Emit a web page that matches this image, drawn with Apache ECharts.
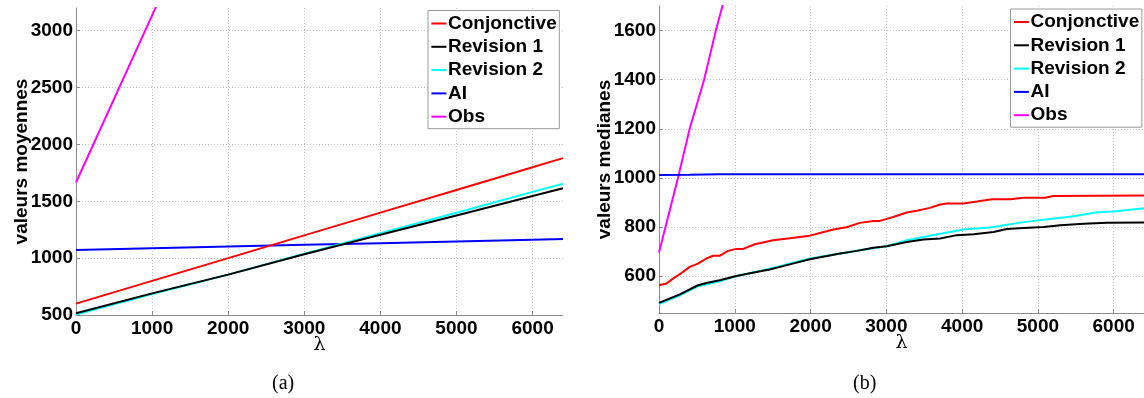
<!DOCTYPE html>
<html>
<head>
<meta charset="utf-8">
<script src="https://cdn.jsdelivr.net/npm/echarts@6/dist/echarts.min.js"></script>
<style>html,body{margin:0;padding:0;background:#fff}#c{width:1144px;height:398px}</style>
</head>
<body>
<div id="c"></div>
<script>
// ---- data ----
const seriesNames = ['Conjonctive', 'Revision 1', 'Revision 2', 'AI', 'Obs'];
const seriesColors = ['#ff0000', '#000000', '#00ffff', '#0000ff', '#ff00ff'];
const xTicks = [0, 1000, 2000, 3000, 4000, 5000, 6000];
const meanTicks = [500, 1000, 1500, 2000, 2500, 3000];
const medTicks = [600, 800, 1000, 1200, 1400, 1600];

// (a) valeurs moyennes
const meanLambda = [0, 1000, 2000, 3000, 4000, 5000, 6000, 6400];
const meanConj = [600, 800, 1000, 1200, 1400, 1600, 1800, 1880];
const meanRev1 = [515, 690, 855, 1035, 1205, 1375, 1547, 1615];
const meanRev2 = [505, 685, 855, 1040, 1220, 1400, 1583, 1655];
const meanAI = [1072, 1087, 1102, 1117, 1132, 1147, 1162, 1168];
const meanObsLambda = [0, 1000, 1200];
const meanObs = [1665, 3135, 3430];

// (b) valeurs medianes
const medConjLambda = [0, 100, 185, 275, 405, 515, 625, 715, 800, 910, 1020, 1110, 1265, 1505, 1725, 1990, 2125, 2300, 2475, 2650, 2830, 2915, 3090, 3270, 3400, 3575, 3710, 3800, 4015, 4195, 4370, 4415, 4635, 4810, 5095, 5205, 6400];
const medConj = [563, 570, 590, 608, 638, 651, 672, 683, 683, 703, 711, 711, 730, 746, 754, 765, 776, 790, 799, 817, 825, 825, 841, 859, 866, 878, 892, 896, 896, 904, 912, 913, 913, 919, 919, 926, 928];
const medRev1Lambda = [0, 275, 515, 625, 800, 1020, 1285, 1460, 1725, 1990, 2390, 2610, 2830, 3005, 3270, 3490, 3710, 3930, 4150, 4415, 4590, 4810, 5075, 5295, 5605, 5910, 6400];
const medRev1 = [491, 526, 563, 572, 583, 601, 617, 627, 648, 669, 692, 703, 716, 722, 739, 749, 753, 767, 771, 780, 792, 796, 800, 807, 813, 817, 818];
const medRev2Lambda = [0, 275, 515, 800, 1020, 1460, 1990, 2390, 2830, 3005, 3270, 3710, 4015, 4370, 4810, 5250, 5470, 5780, 6000, 6400];
const medRev2 = [486, 522, 559, 579, 600, 630, 672, 692, 715, 722, 746, 773, 790, 798, 820, 836, 844, 860, 863, 877];
const medAILambda = [0, 400, 800, 6400];
const medAI = [1012, 1013, 1015, 1015];
const medObsLambda = [0, 100, 250, 405, 595, 750, 837, 900];
const medObs = [696, 817, 1000, 1200, 1400, 1600, 1700, 1780];

function pairs(xs, ys) { return xs.map((x, i) => [x, ys[i]]); }

const FONT = 'Liberation Sans';
const axisLineColor = '#8c8c8c';
const gridColor = '#c4c4c4';

function xAxisCfg(gi) {
  return {
    gridIndex: gi, type: 'value', min: 0, max: 6400, interval: 1000,
    name: 'λ', nameLocation: 'middle', nameGap: 21, nameMoveOverlap: false,
    nameTextStyle: { fontFamily: 'DejaVu Serif', fontSize: 19, color: '#000' },
    axisLine: { show: true, lineStyle: { color: axisLineColor, width: 1 } },
    axisTick: { show: true, inside: true, length: 4, lineStyle: { color: axisLineColor } },
    axisLabel: { margin: 4, showMaxLabel: false, fontFamily: FONT, fontWeight: 'bold', fontSize: 19, color: '#000',
      formatter: v => (xTicks.indexOf(v) >= 0 ? String(v) : '') },
    splitLine: { show: true, showMaxLine: false, showMinLine: false, lineStyle: { color: gridColor, type: [1, 2], width: 1 } }
  };
}
function yAxisCfg(gi, name, min, max, ticks, extra) {
  return Object.assign({
    gridIndex: gi, type: 'value', min: min, max: max,
    name: name, nameLocation: 'middle', nameGap: 45, nameRotate: 90, nameMoveOverlap: false,
    nameTextStyle: { fontFamily: FONT, fontWeight: 'bold', fontSize: 19, color: '#000' },
    axisLine: { show: true, lineStyle: { color: axisLineColor, width: 1 } },
    axisTick: { show: true, inside: true, length: 4, lineStyle: { color: axisLineColor } },
    axisLabel: { margin: 3, showMaxLabel: false, fontFamily: FONT, fontWeight: 'bold', fontSize: 19, color: '#000',
      formatter: v => (ticks.indexOf(v) >= 0 ? String(v) : '') },
    splitLine: { show: true, showMaxLine: false, showMinLine: false, lineStyle: { color: gridColor, type: [1, 2], width: 1 } }
  }, extra || {});
}

function lineSeries(name, xi, yi, data) {
  const idx = seriesNames.indexOf(name);
  return {
    name: name, type: 'line', xAxisIndex: xi, yAxisIndex: yi, data: data,
    symbol: 'none', clip: true, smooth: false,
    lineStyle: { color: seriesColors[idx], width: 2 },
    itemStyle: { color: seriesColors[idx] },
    z: 10 - idx
  };
}

function legendCfg(left, top) {
  return {
    orient: 'vertical', left: left, top: top, data: seriesNames,
    icon: 'rect', itemWidth: 15, itemHeight: 2, itemGap: 4.3,
    padding: [3.5, 2.6, 2.5, 3.4],
    borderColor: '#9a9a9a', borderWidth: 1, backgroundColor: '#ffffff',
    selectedMode: false,
    textStyle: { fontFamily: FONT, fontWeight: 'bold', fontSize: 19, color: '#000', lineHeight: 19, padding: [0, 0, 0, -3.4] }
  };
}

const chart = echarts.init(document.getElementById('c'), null, { renderer: 'canvas' });
chart.setOption({
  animation: false,
  backgroundColor: '#ffffff',
  grid: [
    { left: 76, top: 8, width: 487, height: 307, containLabel: false },
    { left: 659, top: 6, width: 485, height: 307, containLabel: false }
  ],
  xAxis: [xAxisCfg(0), xAxisCfg(1)],
  yAxis: [
    yAxisCfg(0, 'valeurs moyennes', 500, 3200, meanTicks, { interval: 500 }),
    yAxisCfg(1, 'valeurs medianes', 450, 1700, medTicks, { splitNumber: 6 })
  ],
  legend: [legendCfg(428, 10.5), legendCfg(1010.5, 9)],
  series: [
    lineSeries('Conjonctive', 0, 0, pairs(meanLambda, meanConj)),
    lineSeries('Revision 1', 0, 0, pairs(meanLambda, meanRev1)),
    lineSeries('Revision 2', 0, 0, pairs(meanLambda, meanRev2)),
    lineSeries('AI', 0, 0, pairs(meanLambda, meanAI)),
    lineSeries('Obs', 0, 0, pairs(meanObsLambda, meanObs)),
    lineSeries('Conjonctive', 1, 1, pairs(medConjLambda, medConj)),
    lineSeries('Revision 1', 1, 1, pairs(medRev1Lambda, medRev1)),
    lineSeries('Revision 2', 1, 1, pairs(medRev2Lambda, medRev2)),
    lineSeries('AI', 1, 1, pairs(medAILambda, medAI)),
    lineSeries('Obs', 1, 1, pairs(medObsLambda, medObs))
  ],
  graphic: [
    { type: 'text', left: 286 - 14, top: 374, style: { text: '(a)', fontFamily: 'Liberation Serif', fontSize: 20, fill: '#000' } },
    { type: 'text', left: 867 - 14, top: 374, style: { text: '(b)', fontFamily: 'Liberation Serif', fontSize: 20, fill: '#000' } }
  ]
});
</script>
</body>
</html>
